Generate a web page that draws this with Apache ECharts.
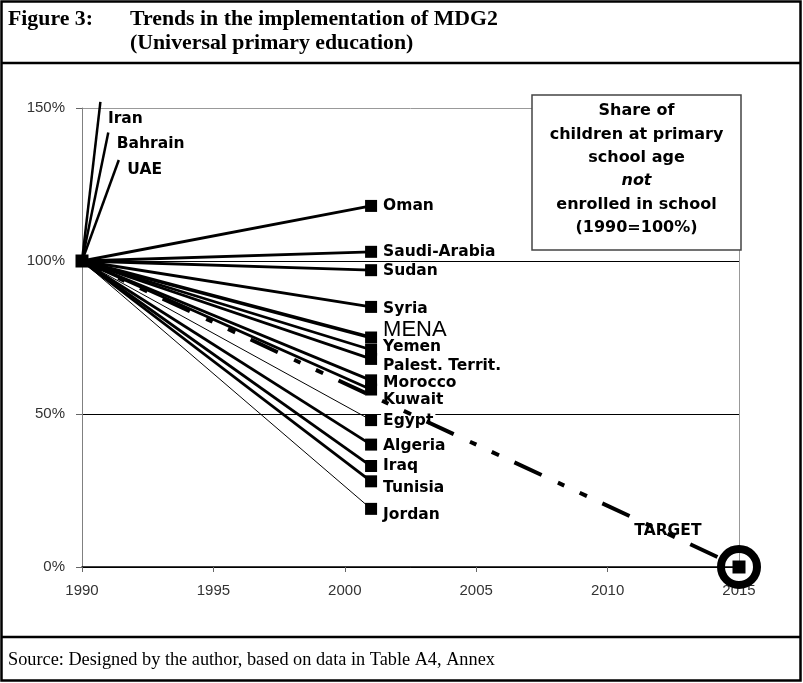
<!DOCTYPE html>
<html>
<head>
<meta charset="utf-8">
<script src="https://cdn.jsdelivr.net/npm/echarts@6/dist/echarts.min.js"></script>
<style>
  html, body { margin: 0; padding: 0; background: #fff; }
  #chart { width: 803px; height: 683px; }
</style>
</head>
<body>
<div id="chart"></div>
<script>
  // chart values (share not enrolled, 1990 = 100%)
  const countries = ['Oman', 'Saudi-Arabia', 'Sudan', 'Syria', 'MENA', 'Yemen', 'Palest. Territ.', 'Morocco', 'Kuwait', 'Egypt', 'Algeria', 'Iraq', 'Tunisia', 'Jordan']
  const values2001 = [118, 103, 97, 85, 75, 71, 68, 61, 58, 48, 40, 33, 28, 19]
  // lines that leave the chart upwards
  const risingCountries = ['Iran', 'Bahrain', 'UAE']
  const risingEndYears = [1990.7, 1991.0, 1991.4]
  const risingEndValues = [152, 142, 133]
  const startYear = 1990
  const startValue = 100
  const lastYear = 2001
  const targetYear = 2015
  const targetValue = 0
  const yearTicks = [1990, 1995, 2000, 2005, 2010, 2015]
  const percentTicks = [0, 50, 100, 150]

  // label vertical shifts and line widths
  const labelShift = {
    'Oman': 0, 'Saudi-Arabia': 0, 'Sudan': 1, 'Syria': 2, 'MENA': -8, 'Yemen': -3,
    'Palest. Territ.': 7, 'Morocco': 3, 'Kuwait': 10, 'Egypt': 1, 'Algeria': 1,
    'Iraq': 0, 'Tunisia': 7, 'Jordan': 6
  }
  const risingLabel = { 'Iran': [3, 17], 'Bahrain': [8, 11], 'UAE': [8, 10] }
  const thinLines = ['Egypt', 'Jordan']

  const labelFont = {
    fontFamily: 'DejaVu Sans',
    fontWeight: 'bold',
    fontSize: 15.5,
    color: '#000'
  }

  let series = []

  // countries 1990 -> 2001
  countries.forEach((name, i) => {
    let lbl = Object.assign({
      show: true,
      position: 'right',
      distance: 6,
      offset: [0, labelShift[name]],
      formatter: name
    }, labelFont)
    if (name === 'MENA') {
      lbl.fontFamily = 'Liberation Sans'
      lbl.fontWeight = 'normal'
      lbl.fontSize = 22
    }
    if (name === 'Egypt') {
      lbl.backgroundColor = '#fff'
      lbl.padding = [0, 2]
      lbl.distance = 4
    }
    series.push({
      name: name,
      type: 'line',
      symbol: 'rect',
      symbolSize: 12,
      lineStyle: {
        color: '#000',
        width: thinLines.indexOf(name) > -1 ? 1 : (name === 'MENA' ? 3.5 : 2.8)
      },
      itemStyle: { color: '#000' },
      data: [
        { value: [startYear, startValue], symbol: 'none' },
        { value: [lastYear, values2001[i]], label: lbl }
      ]
    })
  })

  // Iran, Bahrain, UAE
  risingCountries.forEach((name, i) => {
    let lbl = Object.assign({
      show: true,
      position: 'right',
      distance: risingLabel[name][0],
      offset: [0, risingLabel[name][1]],
      formatter: name
    }, labelFont)
    if (name === 'Iran') {
      lbl.backgroundColor = '#fff'
      lbl.padding = [2, 4]
    }
    series.push({
      name: name,
      type: 'line',
      clip: false,
      symbol: 'circle',
      symbolSize: 1,
      itemStyle: { color: 'rgba(0,0,0,0)' },
      lineStyle: { color: '#000', width: 2.5 },
      data: [
        [startYear, startValue],
        { value: [risingEndYears[i], risingEndValues[i]], label: lbl }
      ]
    })
  })

  // start marker
  series.push({
    type: 'scatter',
    symbol: 'rect',
    symbolSize: 13,
    itemStyle: { color: '#000', opacity: 1 },
    z: 5,
    data: [[startYear, startValue]]
  })

  // target path
  series.push({
    name: 'TARGET',
    type: 'line',
    symbol: 'rect',
    symbolSize: 13,
    z: 4,
    clip: false,
    lineStyle: {
      color: '#000',
      width: 4,
      type: [30, 18, 7, 17, 8, 17],
      dashOffset: 8
    },
    itemStyle: { color: '#000' },
    data: [
      { value: [startYear, startValue], symbol: 'none' },
      {
        value: [targetYear, targetValue],
        label: Object.assign({
          show: true,
          position: 'left',
          distance: 31,
          offset: [0, -36],
          formatter: 'TARGET'
        }, labelFont)
      }
    ]
  })

  // ring round the target
  series.push({
    type: 'scatter',
    symbol: 'circle',
    symbolSize: 36,
    clip: false,
    z: 6,
    itemStyle: {
      color: 'rgba(0,0,0,0)',
      borderColor: '#000',
      borderWidth: 8,
      opacity: 1
    },
    data: [[targetYear, targetValue]]
  })

  const boxX = 532, boxY = 95, boxW = 209, boxH = 155
  const boxLines = ['Share of', 'children at primary', 'school age', 'not', 'enrolled in school', '(1990=100%)']
  let boxTexts = boxLines.map((t, i) => ({
    type: 'text',
    z: 101,
    style: {
      text: t,
      x: boxX + boxW / 2,
      y: boxY + 16 + i * 23.4,
      textAlign: 'center',
      textVerticalAlign: 'middle',
      font: (t === 'not' ? 'italic ' : '') + 'bold 16px "DejaVu Sans"',
      fill: '#000'
    }
  }))

  let myChart = echarts.init(document.getElementById('chart'))
  myChart.setOption({
    animation: false,
    grid: {
      left: 82,
      right: 64,
      top: 108,
      bottom: 116,
      containLabel: false
    },
    xAxis: {
      type: 'value',
      min: yearTicks[0],
      max: yearTicks[yearTicks.length - 1],
      interval: 5,
      axisLine: { show: true, onZero: false, lineStyle: { color: '#000', width: 1.5 } },
      axisTick: { show: true, length: 5, lineStyle: { color: '#666' } },
      axisLabel: {
        margin: 16,
        color: '#333',
        fontFamily: 'Liberation Sans',
        fontSize: 15,
        formatter: v => String(v)
      },
      splitLine: {
        show: true,
        lineStyle: { color: ['rgba(0,0,0,0)', 'rgba(0,0,0,0)', 'rgba(0,0,0,0)', 'rgba(0,0,0,0)', 'rgba(0,0,0,0)', '#999'] }
      }
    },
    yAxis: {
      type: 'value',
      min: percentTicks[0],
      max: percentTicks[percentTicks.length - 1],
      interval: 50,
      axisLine: { show: true, lineStyle: { color: '#808080', width: 1 } },
      axisTick: { show: true, length: 6, lineStyle: { color: '#666' } },
      axisLabel: {
        margin: 17,
        color: '#333',
        fontFamily: 'Liberation Sans',
        fontSize: 15,
        formatter: '{value}%'
      },
      splitLine: {
        show: true,
        lineStyle: { color: ['#000', '#000', '#000', '#999'], width: 1 }
      }
    },
    graphic: [
      // outer frame and separators
      {
        type: 'rect',
        shape: { x: 1.5, y: 1.5, width: 799, height: 679 },
        style: { fill: 'none', stroke: '#000', lineWidth: 2.5 }
      },
      {
        type: 'line',
        shape: { x1: 1, y1: 63, x2: 801, y2: 63 },
        style: { stroke: '#000', lineWidth: 2.5 }
      },
      {
        type: 'line',
        shape: { x1: 1, y1: 637, x2: 801, y2: 637 },
        style: { stroke: '#000', lineWidth: 2.5 }
      },
      {
        type: 'text',
        style: { text: 'Figure 3:', x: 8, y: 19, textVerticalAlign: 'middle', font: 'bold 21.8px "Liberation Serif"', fill: '#000' }
      },
      {
        type: 'text',
        style: { text: 'Trends in the implementation of MDG2', x: 130, y: 19, textVerticalAlign: 'middle', font: 'bold 21.8px "Liberation Serif"', fill: '#000' }
      },
      {
        type: 'text',
        style: { text: '(Universal primary education)', x: 130, y: 43, textVerticalAlign: 'middle', font: 'bold 21.8px "Liberation Serif"', fill: '#000' }
      },
      {
        type: 'text',
        style: { text: 'Source: Designed by the author, based on data in Table A4, Annex', x: 8, y: 660, textVerticalAlign: 'middle', font: '18.3px "Liberation Serif"', fill: '#000' }
      },
      // explanation box
      {
        type: 'rect',
        z: 100,
        shape: { x: boxX, y: boxY, width: boxW, height: boxH },
        style: { fill: '#fff', stroke: '#444', lineWidth: 1.5 }
      }
    ].concat(boxTexts),
    series: series
  })
</script>
</body>
</html>
